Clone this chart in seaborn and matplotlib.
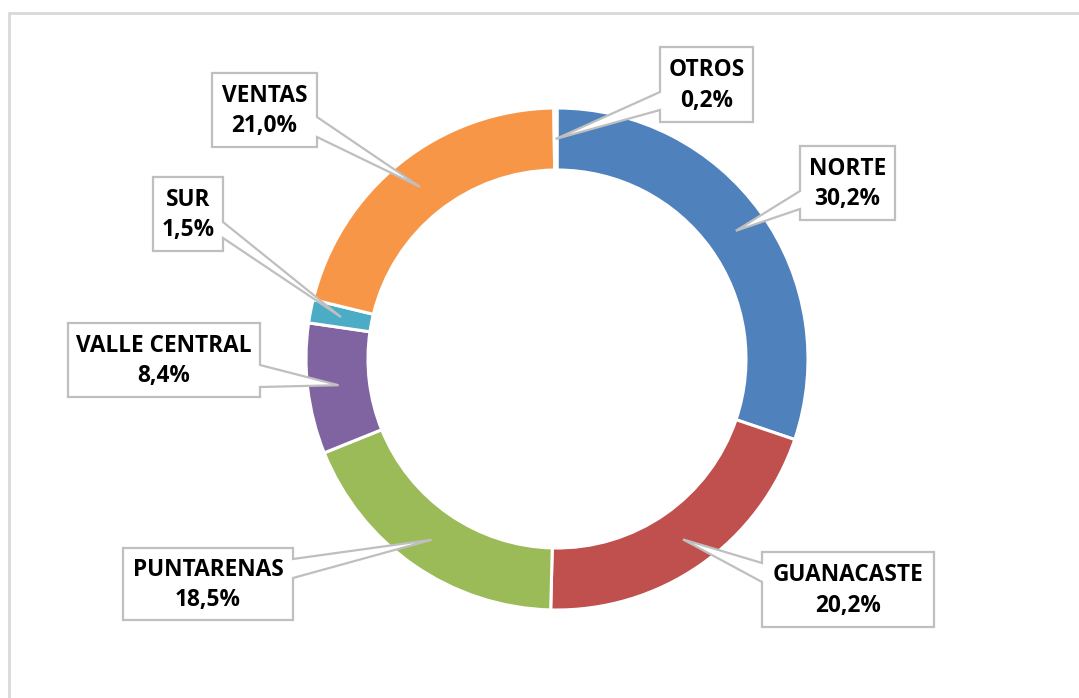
import numpy as np
import matplotlib
matplotlib.use("Agg")
import matplotlib.pyplot as plt
import seaborn as sns
from matplotlib.patches import Polygon
from matplotlib.lines import Line2D

# ---- data ----
categories = ["NORTE", "GUANACASTE", "PUNTARENAS", "VALLE CENTRAL", "SUR", "VENTAS", "OTROS"]
shares = [30.2, 20.2, 18.5, 8.4, 1.5, 21.0, 0.2]
pct_labels = ["30,2%", "20,2%", "18,5%", "8,4%", "1,5%", "21,0%", "0,2%"]
colors = ["#4F81BD", "#C0504D", "#9BBB59", "#8064A2", "#4BACC6", "#F79646", "#2C4D75"]

sns.set_theme(style="white")
plt.rcParams['font.family'] = ['Open Sans', 'DejaVu Sans']

W, H = 1079, 698
fig = plt.figure(figsize=(W / 100, H / 100), dpi=100)
fig.patch.set_facecolor("white")
ax = fig.add_axes([0, 0, 1, 1])
CX, CY, R = 557, 359, 251


def px(x, y):
    return ((x - CX) / R, (CY - y) / R)


ring = 0.247
wedges, _ = ax.pie(shares, colors=colors, startangle=90, counterclock=False, radius=1,
                   wedgeprops=dict(width=ring, edgecolor='white', linewidth=2.2))

ax.set_aspect('auto')
ax.set_xlim(-CX / R, (W - CX) / R)
ax.set_ylim(-(H - CY) / R, CY / R)
ax.axis('off')

# label box layout (pixels): x0, y0, x1, y1, side of callout, base start, base end
layout = {
    "NORTE": (800, 146, 895, 220, 'left', 191, 209),
    "GUANACASTE": (762, 552, 934, 627, 'left', 563, 582),
    "PUNTARENAS": (123, 548, 293, 620, 'right', 559, 578),
    "VALLE CENTRAL": (68, 323, 260, 397, 'right', 365, 387),
    "SUR": (153, 177, 223, 251, 'right', 222, 238),
    "VENTAS": (212, 73, 317, 147, 'right', 117, 137),
    "OTROS": (660, 47, 753, 122, 'left', 92, 110),
}

r_mid = 1 - ring / 2
for w, cat, pl in zip(wedges, categories, pct_labels):
    th = np.deg2rad((w.theta1 + w.theta2) / 2)
    tip = (r_mid * np.cos(th), r_mid * np.sin(th))
    x0, y0, x1, y1, side, b0, b1 = layout[cat]
    if side == 'left':
        pts = [px(x0, y0), px(x1, y0), px(x1, y1), px(x0, y1), px(x0, b1), tip, px(x0, b0)]
    else:
        pts = [px(x0, y0), px(x1, y0), px(x1, b0), tip, px(x1, b1), px(x1, y1), px(x0, y1)]
    poly = Polygon(pts, closed=True, facecolor='white', edgecolor='#BFBFBF', linewidth=1.6, zorder=5)
    ax.add_patch(poly)
    cx, cy = px((x0 + x1) / 2, (y0 + y1) / 2 + 1)
    ax.text(cx, cy, f"{cat}\n{pl}", ha='center', va='center', fontsize=16.3, fontweight='bold',
            color='black', linespacing=1.36, zorder=6)

# chart area frame (top and left edges visible)
fig.add_artist(Line2D([9 / W, 1], [1 - 13 / H, 1 - 13 / H], transform=fig.transFigure,
                      color='#D9D9D9', lw=2))
fig.add_artist(Line2D([9 / W, 9 / W], [0, 1 - 13 / H], transform=fig.transFigure,
                      color='#D9D9D9', lw=2))

fig.savefig("out.png", dpi=100, facecolor='white')
